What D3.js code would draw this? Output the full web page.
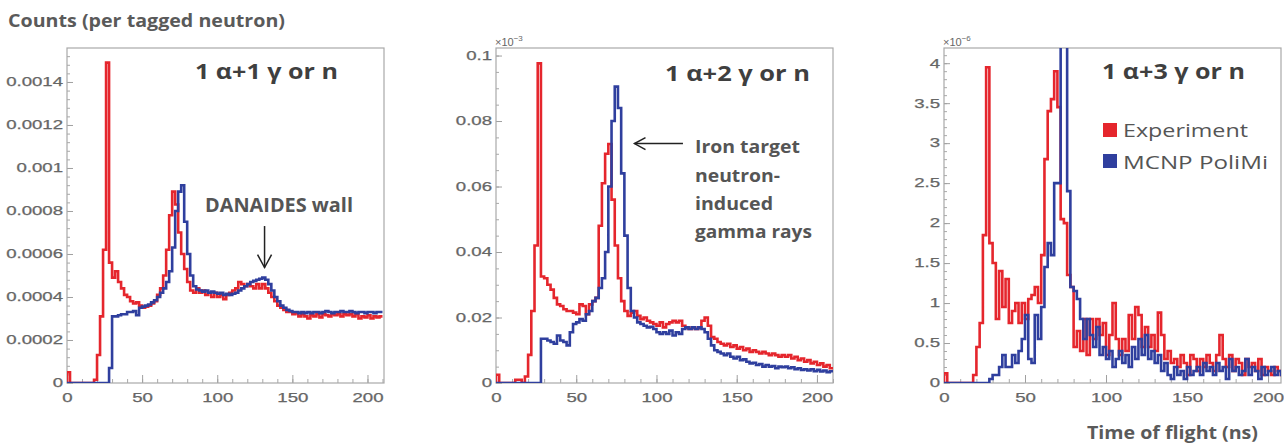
<!DOCTYPE html>
<html>
<head>
<meta charset="utf-8">
<script src="https://cdn.jsdelivr.net/npm/d3@7"></script>
<style>
  body { margin: 0; background: #fff; }
  svg { display: block; }
</style>
</head>
<body>
<svg id="chart" width="1284" height="446"></svg>
<script>
// Time-of-flight histograms, 2 ns bins starting at 0 ns.
const binWidth = 2;

// Panel 1: 1 alpha + 1 gamma or n (counts in units of 1e-4 per tagged neutron)
const exp1 = [0.5,0,0,0,0,0,0,0,0,0.15,
  1.3,3.1,6.2,14.9,5.6,4.9,5.2,4.7,4.4,4.1,
  4.0,3.8,3.7,3.75,3.6,3.5,3.55,3.6,3.7,3.8,
  4.1,4.4,5.0,6.2,7.8,8.9,8.3,7.0,6.0,5.3,
  4.7,4.3,4.2,4.4,4.2,4.3,4.1,4.2,4.0,4.2,
  4.0,4.1,3.9,4.1,4.2,4.3,4.4,4.7,4.6,4.5,
  4.6,4.5,4.4,4.6,4.4,4.6,4.4,4.2,4.0,3.8,
  3.6,3.5,3.4,3.3,3.3,3.2,3.25,3.1,3.2,3.1,
  3.0,3.15,3.1,3.2,3.05,3.2,3.15,3.1,3.2,3.15,
  3.2,3.1,3.2,3.15,3.2,3.1,3.2,3.0,3.1,3.05,
  3.15,3.0,3.1,3.05,3.1];
const sim1 = [0,0,0,0,0,0,0,0,0,0,
  0,0,0,0,0.7,3.1,3.1,3.15,3.2,3.2,
  3.3,3.3,3.35,3.15,3.5,3.55,3.6,3.65,3.75,3.85,
  4.0,4.2,4.4,4.7,5.2,6.3,8.0,8.9,9.2,7.5,
  6.0,5.0,4.5,4.35,4.3,4.25,4.3,4.2,4.25,4.2,
  4.15,4.2,4.1,4.15,4.1,4.15,4.2,4.3,4.4,4.5,
  4.6,4.7,4.75,4.8,4.85,4.9,4.8,4.6,4.3,4.0,
  3.8,3.6,3.5,3.4,3.35,3.3,3.3,3.25,3.3,3.25,
  3.3,3.25,3.3,3.3,3.25,3.3,3.35,3.3,3.25,3.3,
  3.3,3.35,3.3,3.3,3.35,3.3,3.25,3.3,3.3,3.25,
  3.3,3.3,3.25,3.3,3.3];

// Panel 2: 1 alpha + 2 gamma or n (units of 0.01, axis shown x1e-3)
const exp2 = [0.25,0,0,0,0,0,0.1,0.1,0,0.2,
  0.86,2.2,4.2,9.76,3.25,3.2,3.0,2.85,2.6,2.4,
  2.35,2.25,2.2,2.2,2.15,2.1,2.4,2.35,2.1,2.4,
  2.5,2.6,4.8,6.1,7.0,7.3,5.6,4.2,3.2,2.5,
  2.2,2.05,2.15,2.2,2.05,1.95,2.0,1.9,1.85,1.8,
  1.75,1.85,1.7,1.8,1.85,1.9,1.85,1.9,1.75,1.7,
  1.65,1.7,1.65,1.7,1.9,2.0,1.75,1.4,1.35,1.25,
  1.2,1.15,1.2,1.1,1.15,1.05,1.1,1.0,1.05,0.95,
  1.0,0.95,0.9,0.95,0.9,0.85,0.9,0.85,0.8,0.85,
  0.8,0.85,0.75,0.8,0.7,0.75,0.65,0.7,0.6,0.65,
  0.55,0.6,0.5,0.55,0.45];
const sim2 = [0,0,0,0,0,0,0,0,0,0,
  0,0,0,0,1.35,1.35,1.3,1.25,1.2,1.45,
  1.3,1.25,1.15,1.55,1.8,1.85,1.95,1.9,2.1,2.2,
  2.5,2.6,2.9,3.2,4.0,6.0,8.0,9.05,8.4,6.4,
  4.5,2.9,2.2,2.0,1.85,1.8,1.75,1.7,1.72,1.65,
  1.55,1.5,1.55,1.5,1.6,1.45,1.55,1.5,1.65,1.7,
  1.65,1.7,1.65,1.7,1.65,1.55,1.35,1.15,1.0,0.95,
  0.9,0.85,0.9,0.8,0.75,0.8,0.7,0.72,0.65,0.6,
  0.62,0.55,0.58,0.5,0.55,0.5,0.52,0.45,0.5,0.48,
  0.5,0.45,0.48,0.42,0.45,0.4,0.42,0.38,0.42,0.36,
  0.4,0.35,0.38,0.33,0.36];

// Panel 3: 1 alpha + 3 gamma or n (units of 1e-6, axis shown x1e-6)
const exp3 = [0.12,0,0,0,0,0,0,0,0,0.1,
  0.45,0.75,1.85,3.95,1.75,1.5,0.8,1.4,0.95,1.3,
  0.75,0.9,1.0,0.75,1.0,0.8,1.05,1.1,1.2,1.0,
  1.6,2.8,3.4,3.55,3.9,3.45,2.05,2.0,1.35,1.2,
  0.45,0.65,0.4,0.8,0.35,0.8,0.55,0.8,0.6,0.75,
  0.35,0.6,1.0,0.55,0.35,0.55,0.4,0.85,0.55,0.95,
  0.85,0.45,0.7,0.45,0.6,0.4,0.88,0.6,0.3,0.4,
  0.25,0.3,0.2,0.35,0.25,0.1,0.35,0.3,0.15,0.3,
  0.2,0.35,0.25,0.15,0.35,0.6,0.3,0.2,0.35,0.15,
  0.3,0.25,0.1,0.3,0.2,0.25,0.15,0.3,0.1,0.2,
  0.15,0.1,0.2,0.15,0.1];
const sim3 = [0,0,0,0,0,0,0,0,0,0,
  0,0,0,0,0.05,0.1,0.1,0.2,0.35,0.2,
  0.2,0.35,0.25,0.4,0.55,0.85,0.3,0.25,0.85,0.55,
  0.95,1.45,1.75,1.6,2.5,2.5,4.6,5.0,2.4,1.2,
  1.15,1.05,0.8,0.55,0.8,0.6,0.45,0.7,0.35,0.45,
  0.3,0.4,0.2,0.3,0.4,0.25,0.35,0.2,0.45,0.3,
  0.55,0.35,0.6,0.3,0.4,0.25,0.35,0.15,0.25,0.1,
  0.05,0.2,0.1,0.15,0.05,0.2,0.1,0.15,0.2,0.1,
  0.25,0.15,0.2,0.1,0.25,0.15,0.2,0.05,0.3,0.15,
  0.2,0.1,0.15,0.3,0.1,0.2,0.15,0.05,0.2,0.1,
  0.15,0.2,0.1,0.15,0.1];

// Axis ticks and labels
const xTickValues = [0, 50, 100, 150, 200];
const xTickLabels = ["0", "50", "100", "150", "200"];
const yTickValues1 = [0, 0.0002, 0.0004, 0.0006, 0.0008, 0.001, 0.0012, 0.0014];
const yTickLabels1 = ["0", "0.0002", "0.0004", "0.0006", "0.0008", "0.001", "0.0012", "0.0014"];
const yTickValues2 = [0, 0.02, 0.04, 0.06, 0.08, 0.1];
const yTickLabels2 = ["0", "0.02", "0.04", "0.06", "0.08", "0.1"];
const yTickValues3 = [0, 0.5, 1, 1.5, 2, 2.5, 3, 3.5, 4];
const yTickLabels3 = ["0", "0.5", "1", "1.5", "2", "2.5", "3", "3.5", "4"];

const seriesNames = ["Experiment", "MCNP PoliMi"];
const colors = { exp: "#e5262d", sim: "#2f3f9e" };

const panels = [
  { left: 67, right: 384, xMax: 211, yMax: 0.001558, unit: 1e-4, minor: 0.00004,
    exp: exp1, sim: sim1, ticks: yTickValues1, labels: yTickLabels1,
    title: "1 α+1 γ or n", exponent: null },
  { left: 496, right: 833, xMax: 210, yMax: 0.1023, unit: 0.01, minor: 0.005,
    exp: exp2, sim: sim2, ticks: yTickValues2, labels: yTickLabels2,
    title: "1 α+2 γ or n", exponent: "−3" },
  { left: 944, right: 1281, xMax: 208, yMax: 4.19, unit: 1, minor: 0.1,
    exp: exp3, sim: sim3, ticks: yTickValues3, labels: yTickLabels3,
    title: "1 α+3 γ or n", exponent: "−6" }
];

const frameTop = 48, frameBottom = 383;
const svg = d3.select("#chart");
const tickFont = "'Liberation Sans', Arial, sans-serif";
const textFont = "'Open Sans', 'Noto Sans', sans-serif";

function stretch(sel, factor) {
  sel.each(function () {
    const w = this.getComputedTextLength();
    d3.select(this).attr("textLength", w * factor).attr("lengthAdjust", "spacingAndGlyphs");
  });
}

function fitted(parent, x, y, str, size, weight, fill, width, anchor) {
  return parent.append("text")
    .attr("x", x).attr("y", y)
    .attr("font-family", textFont)
    .attr("font-size", size)
    .attr("font-weight", weight)
    .attr("fill", fill)
    .attr("text-anchor", anchor || "start")
    .attr("textLength", width)
    .attr("lengthAdjust", "spacingAndGlyphs")
    .text(str);
}

const scales = [];

panels.forEach((p, pi) => {
  const x = d3.scaleLinear().domain([0, p.xMax]).range([p.left, p.right]);
  const y = d3.scaleLinear().domain([0, p.yMax]).range([frameBottom, frameTop]);
  scales.push({ x, y });
  const g = svg.append("g");

  const clipId = "clip" + pi;
  svg.append("defs").append("clipPath").attr("id", clipId)
    .append("rect")
    .attr("x", p.left).attr("y", frameTop)
    .attr("width", p.right - p.left).attr("height", frameBottom - frameTop);

  // minor ticks
  const nMinorY = Math.floor(p.yMax / p.minor + 1e-9);
  const minorY = d3.range(0, nMinorY + 1).map(k => k * p.minor);
  g.append("g").attr("transform", `translate(${p.left},0)`)
    .call(d3.axisLeft(y).tickValues(minorY).tickFormat("").tickSizeInner(-3).tickSizeOuter(0))
    .call(a => a.select(".domain").remove())
    .call(a => a.selectAll("line").attr("stroke", "#a8a8a8"));
  const minorX = d3.range(0, Math.floor(p.xMax / 10) + 1).map(k => k * 10);
  g.append("g").attr("transform", `translate(0,${frameBottom})`)
    .call(d3.axisBottom(x).tickValues(minorX).tickFormat("").tickSizeInner(-4).tickSizeOuter(0))
    .call(a => a.select(".domain").remove())
    .call(a => a.selectAll("line").attr("stroke", "#a8a8a8"));

  // major ticks with labels
  const yAxis = g.append("g").attr("transform", `translate(${p.left},0)`)
    .call(d3.axisLeft(y).tickValues(p.ticks).tickFormat((d, i) => p.labels[i])
      .tickSizeInner(-6).tickSizeOuter(0).tickPadding(4));
  const xAxis = g.append("g").attr("transform", `translate(0,${frameBottom})`)
    .call(d3.axisBottom(x).tickValues(xTickValues).tickFormat((d, i) => xTickLabels[i])
      .tickSizeInner(-8).tickSizeOuter(0).tickPadding(10));
  [yAxis, xAxis].forEach(a => {
    a.select(".domain").remove();
    a.selectAll("line").attr("stroke", "#a0a0a0");
    a.selectAll("text")
      .attr("font-family", tickFont).attr("font-size", 12).attr("fill", "#666")
      .attr("stroke", "#666").attr("stroke-width", 0.25);
    stretch(a.selectAll("text"), 1.55);
  });

  // frame
  g.append("rect")
    .attr("x", p.left).attr("y", frameTop)
    .attr("width", p.right - p.left).attr("height", frameBottom - frameTop)
    .attr("fill", "none").attr("stroke", "#a9a9a9").attr("stroke-width", 1.2);

  if (p.exponent) {
    const t = g.append("text")
      .attr("x", p.left - 1).attr("y", 46)
      .attr("font-family", tickFont).attr("font-size", 11).attr("fill", "#666");
    t.append("tspan").text("×10");
    t.append("tspan").attr("font-size", 8).attr("dy", -5).text(p.exponent);
  }

  // histograms as step outlines
  const line = d3.line().x(d => x(d[0])).y(d => y(d[1])).curve(d3.curveStepAfter);
  const hist = counts => {
    const pts = [[0, 0]];
    counts.forEach((v, i) => pts.push([i * binWidth, v * p.unit]));
    pts.push([counts.length * binWidth, counts[counts.length - 1] * p.unit]);
    return pts;
  };
  const plot = g.append("g").attr("clip-path", `url(#${clipId})`);
  plot.append("path").attr("d", line(hist(p.exp)))
    .attr("fill", "none").attr("stroke", colors.exp).attr("stroke-width", 2.6)
    .attr("stroke-linejoin", "miter");
  plot.append("path").attr("d", line(hist(p.sim)))
    .attr("fill", "none").attr("stroke", colors.sim).attr("stroke-width", 2.6)
    .attr("stroke-linejoin", "miter");
});

// panel titles
fitted(svg, 195, 79, panels[0].title, 21, 700, "#3f3f3f", 143);
fitted(svg, 665, 81, panels[1].title, 21, 700, "#3f3f3f", 145);
fitted(svg, 1102, 79, panels[2].title, 21, 700, "#3f3f3f", 143);

// axis captions
fitted(svg, 8, 27, "Counts (per tagged neutron)", 17, 700, "#5a5a5a", 277);
fitted(svg, 1087, 439, "Time of flight (ns)", 18, 700, "#5a5a5a", 171);

// annotations: DANAIDES wall
fitted(svg, 205, 212, "DANAIDES wall", 19, 700, "#555", 148);
{
  const { x, y } = scales[0];
  const ax = x(131.5), y0 = y(0.00073), y1 = y(0.000537);
  svg.append("line").attr("x1", ax).attr("x2", ax).attr("y1", y0).attr("y2", y1)
    .attr("stroke", "#222").attr("stroke-width", 1.5);
  svg.append("path").attr("d", `M${ax - 7},${y1 - 13}L${ax},${y1}L${ax + 7},${y1 - 13}`)
    .attr("fill", "none").attr("stroke", "#222").attr("stroke-width", 1.5);
}

// annotations: iron target
{
  const { x, y } = scales[1];
  const ay = y(0.0731), xa = x(116.5), xb = x(86.3);
  svg.append("line").attr("x1", xa).attr("x2", xb).attr("y1", ay).attr("y2", ay)
    .attr("stroke", "#222").attr("stroke-width", 1.5);
  svg.append("path").attr("d", `M${xb + 11},${ay - 6}L${xb},${ay}L${xb + 11},${ay + 6}`)
    .attr("fill", "none").attr("stroke", "#222").attr("stroke-width", 1.5);
}
fitted(svg, 695, 153, "Iron target", 18, 700, "#555", 105);
fitted(svg, 695, 182, "neutron-", 18, 700, "#555", 85);
fitted(svg, 695, 210, "induced", 18, 700, "#555", 78);
fitted(svg, 695, 238, "gamma rays", 18, 700, "#555", 117);

// legend
const legend = svg.append("g");
[colors.exp, colors.sim].forEach((c, i) => {
  legend.append("rect").attr("x", 1103).attr("y", 123 + i * 31).attr("width", 14).attr("height", 14)
    .attr("fill", c);
  fitted(legend, 1123, 137 + i * 32, seriesNames[i], 19, 400, "#555", i === 0 ? 125 : 145);
});
</script>
</body>
</html>
